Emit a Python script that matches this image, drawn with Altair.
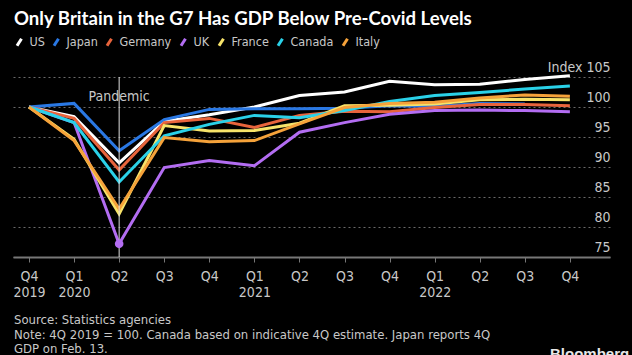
import altair as alt
import pandas as pd

quarters = list(range(13))
q_labels = [["Q4", "2019"], ["Q1", "2020"], ["Q2", ""], ["Q3", ""], ["Q4", ""],
            ["Q1", "2021"], ["Q2", ""], ["Q3", ""], ["Q4", ""], ["Q1", "2022"],
            ["Q2", ""], ["Q3", ""], ["Q4", ""]]

countries = ["US", "Japan", "Germany", "UK", "France", "Canada", "Italy"]
colors = ["#ffffff", "#2a78e4", "#e8643c", "#b36df2", "#f7e36a", "#2ad1e8", "#f5a23a"]

us = [100, 98.4, 90.7, 97.6, 98.7, 100.0, 101.9, 102.5, 104.3, 103.7, 103.8, 104.6, 105.2]
japan = [100, 100.6, 92.7, 97.9, 99.6, 99.7, 99.7, 99.8, 100.2, 100.1, 100.6, 100.5, None]
germany = [100, 98.1, 89.5, 97.4, 98.1, 96.6, 98.6, 99.3, 99.2, 99.9, 100.4, 100.4, 100.2]
uk = [100, 97.4, 77.2, 89.9, 91.1, 90.2, 95.8, 97.4, 98.8, 99.4, 99.5, 99.4, 99.2]
france = [100, 94.6, 82.2, 96.9, 96.0, 96.1, 97.3, 100.2, 100.3, 100.5, 101.2, 101.3, 101.2]
canada = [100, 97.4, 87.5, 95.2, 97.1, 98.6, 98.2, 99.4, 100.9, 101.9, 102.4, 103.0, 103.5]
italy = [100, 94.4, 83.0, 94.9, 94.2, 94.4, 97.2, 99.9, 100.6, 100.8, 101.5, 102.0, 101.8]

series = [us, japan, germany, uk, france, canada, italy]
draw_order = ["Japan", "Germany", "UK", "Italy", "France", "Canada", "US"]

rows = []
for name, vals in zip(countries, series):
    for q, v in zip(quarters, vals):
        if v is not None:
            rows.append({"q": q, "country": name, "value": v,
                         "order": draw_order.index(name)})
df = pd.DataFrame(rows)

y_ticks = [75, 80, 85, 90, 95, 100, 105]
pandemic_q = 2
uk_low = pd.DataFrame({"q": [2], "value": [uk[2]]})

title = "Only Britain in the G7 Has GDP Below Pre-Covid Levels"
source = "Source: Statistics agencies"
note1 = "Note: 4Q 2019 = 100. Canada based on indicative 4Q estimate. Japan reports 4Q"
note2 = "GDP on Feb. 13."

FONT = "DejaVu Sans Condensed, Roboto, sans-serif"
TXT = "#c8c8c8"

label_expr = "[" + ",".join("['%s','%s']" % (a, b) for a, b in q_labels) + "][datum.value]"

x_scale = alt.Scale(domain=[-0.355, 12.89], nice=False, zero=False)
y_scale = alt.Scale(domain=[75, 105], nice=False, zero=False)

x_axis = alt.Axis(
    values=quarters, labelExpr=label_expr, title=None, grid=False,
    domainColor="#777777", domainWidth=2, tickColor="#777777", tickSize=5,
    tickWidth=1, labelColor=TXT, labelFontSize=14, labelFont=FONT,
    labelPadding=7, labelLineHeight=16, labelBaseline="top", labelOverlap=False)
y_axis = alt.Axis(
    orient="right", values=y_ticks, title=None, domain=False, ticks=False,
    labelAlign="right", labelPadding=0, labelBaseline="alphabetic", labelOffset=-6,
    labelExpr="datum.value == 105 ? 'Index  105' : datum.label", labelOverlap=False,
    labelColor=TXT, labelFontSize=14, labelFont=FONT,
    grid=True, gridColor="#6a6a6a", gridDash=[2, 3], gridWidth=1)

x_enc = alt.X("q:Q", scale=x_scale, axis=x_axis)
y_enc = alt.Y("value:Q", scale=y_scale, axis=y_axis)

lines = alt.Chart(df).mark_line(strokeWidth=3).encode(
    x=x_enc, y=y_enc,
    color=alt.Color("country:N", scale=alt.Scale(domain=countries, range=colors),
                    legend=alt.Legend(
                        orient="none", legendX=0, legendY=-41, direction="horizontal",
                        title=None, symbolType="M-0.5,0.8L0.5,-0.8", gridAlign="none",
                        symbolStrokeWidth=3, symbolSize=80, labelFont=FONT,
                        labelFontSize=12.5, labelColor=TXT, columnPadding=3,
                        symbolOffset=0, labelOffset=4)),
    order="order:Q",
    detail="country:N",
)

rule = alt.Chart(pd.DataFrame({"q": [pandemic_q]})).mark_rule(
    color="#e0e0e0", strokeWidth=1).encode(
    x=x_enc, y=alt.value(0), y2=alt.value(180))

pand = alt.Chart(pd.DataFrame({"q": [pandemic_q], "t": ["Pandemic"]})).mark_text(
    font=FONT, fontSize=14, color=TXT, align="center", baseline="middle").encode(
    x=x_enc, y=alt.value(20), text="t:N")

dot = alt.Chart(uk_low).mark_circle(size=75, color="#b36df2", opacity=1).encode(
    x=x_enc, y=y_enc)

def label(txt, y, weight="normal", size=13, color=TXT, x=1, font=FONT):
    return alt.Chart(pd.DataFrame({"t": [txt]})).mark_text(
        font=font, fontSize=size, fontWeight=weight, color=color, align="left",
        baseline="middle").encode(x=alt.value(x), y=alt.value(y), text="t:N")

chart = alt.layer(
    lines, rule, dot, pand,
    label(title, -58, weight="bold", size=18.6, color="#ffffff", font="Lato"),
    label(source, 243), label(note1, 258), label(note2, 272),
    label("Bloomberg", 277, weight="bold", size=15, color="#e8e8e8", x=537,
          font="Liberation Sans"),
).properties(
    width=597, height=180,
    background="#000000",
    padding={"left": 13, "top": 77, "right": 22, "bottom": 98},
    autosize=alt.AutoSizeParams(type="none"),
).configure_view(stroke=None)

chart.save("out.html", embed_options={"renderer": "svg", "actions": False})
